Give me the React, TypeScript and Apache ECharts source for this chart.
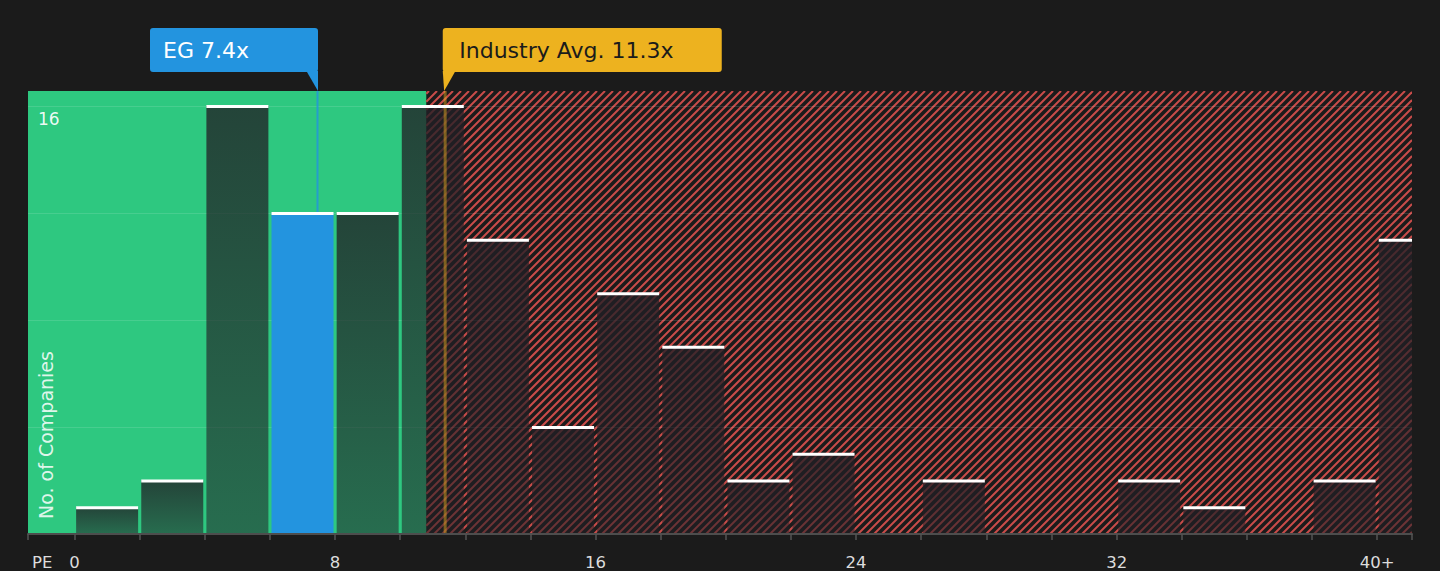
import { useEffect, useRef } from 'react';
import * as echarts from 'echarts';

// ---- data ----
const binStarts = [0, 2, 4, 6, 8, 10, 12, 14, 16, 18, 20, 22, 24, 26, 28, 30, 32, 34, 36, 38, 40];
const companyCounts = [1, 2, 16, 12, 12, 16, 11, 4, 9, 7, 2, 3, 0, 2, 0, 0, 2, 1, 0, 2, 11];
const binSize = 2;
const xTickLabels: Record<string, string> = { '0': '0', '8': '8', '16': '16', '24': '24', '32': '32', '40': '40+' };
const yTickLabels: Record<string, string> = { '16': '16' };
const yAxisTitle = 'No. of Companies';
const xAxisTitle = 'PE';
const markerValues = [7.46, 11.38];
const markerLabels = ['EG 7.4x', 'Industry Avg. 11.3x'];
const fairZoneEnd = 10.8;
const xDomain = [-1.43, 41.07];
const yDomain = [0, 16.56];

// ---- styles ----
const FONT = 'DejaVu Sans';
const BG = '#1b1b1b';
const GREEN = '#2ec880';
const RED = '#c94c4a';
const BLUE = '#2394df';
const GOLD = '#edb21f';
const BAR_W = 62;

export default function App() {
  const ref = useRef<HTMLDivElement>(null);

  useEffect(() => {
    if (!ref.current) return;
    const chart = echarts.init(ref.current, null, { renderer: 'svg' });

    const egBin = binStarts.findIndex((s) => markerValues[0] >= s && markerValues[0] < s + binSize);
    const barData = binStarts.map((s, i) => [s + binSize / 2, companyCounts[i], i === egBin ? 1 : 0]);

    const markerStyles = [
      { fill: BLUE, text: '#ffffff', line: 'rgba(35,148,223,0.8)', lineWidth: 2, boxWidth: 168, side: 'left' },
      { fill: GOLD, text: '#1b1b1b', line: 'rgba(237,178,31,0.45)', lineWidth: 3, boxWidth: 279, side: 'right' },
    ];

    const option: any = {
      animation: false,
      backgroundColor: BG,
      grid: { left: 28, right: 28, top: 91, bottom: 37, outerBoundsMode: 'none' },
      graphic: [
        {
          type: 'text',
          x: 36,
          y: 519,
          rotation: Math.PI / 2,
          z: 3,
          silent: true,
          style: {
            text: yAxisTitle,
            fill: 'rgba(255,255,255,0.85)',
            fontSize: 19,
            fontFamily: FONT,
            align: 'left',
            verticalAlign: 'top',
          },
        },
      ],
      xAxis: {
        type: 'value',
        min: xDomain[0],
        max: xDomain[1],
        splitNumber: 21,
        z: 4,
        axisLine: { show: true, lineStyle: { color: '#4d4d4d', width: 2 } },
        axisTick: { show: true, length: 6, lineStyle: { color: '#555555', width: 1.5 } },
        splitLine: { show: false },
        axisLabel: {
          formatter: (v: number) => xTickLabels[String(v)] ?? '',
          color: '#dddddd',
          fontSize: 16.5,
          lineHeight: 16,
          fontFamily: FONT,
          margin: 20,
        },
        name: xAxisTitle,
        nameLocation: 'start',
        nameGap: 0,
        nameTextStyle: {
          color: '#dddddd',
          fontSize: 16.5,
          lineHeight: 16,
          fontFamily: FONT,
          align: 'left',
          verticalAlign: 'top',
          padding: [20, 0, 0, 4],
        },
      },
      yAxis: {
        type: 'value',
        min: yDomain[0],
        max: yDomain[1],
        interval: 4,
        z: 2,
        axisLine: { show: false },
        axisTick: { show: false },
        splitLine: {
          show: true,
          showMinLine: false,
          showMaxLine: false,
          lineStyle: { color: 'rgba(255,255,255,0.12)', width: 1 },
        },
        axisLabel: {
          inside: true,
          margin: 10,
          formatter: (v: number) => yTickLabels[String(v)] ?? '',
          color: 'rgba(255,255,255,0.92)',
          fontSize: 17,
          fontFamily: FONT,
          verticalAlign: 'top',
          padding: [5, 0, 0, 0],
        },
      },
      series: [
        {
          name: 'zones',
          type: 'custom',
          z: 1,
          silent: true,
          clip: true,
          data: [[fairZoneEnd, 0]],
          renderItem: (params: any, api: any) => {
            const cs = params.coordSys;
            const x0 = cs.x;
            const x1 = cs.x + cs.width;
            const y0 = cs.y;
            const y1 = cs.y + cs.height;
            const xe = api.coord([api.value(0), 0])[0];
            const children: any[] = [
              { type: 'rect', shape: { x: x0, y: y0, width: xe - x0, height: y1 - y0 }, style: { fill: GREEN } },
            ];
            const step = 8;
            const cStart = Math.floor((xe + y0) / step) * step;
            for (let c = cStart; c <= x1 + y1; c += step) {
              const xa = Math.max(xe, c - y1);
              const xb = Math.min(x1, c - y0);
              if (xb > xa) {
                children.push({
                  type: 'line',
                  shape: { x1: xa, y1: c - xa, x2: xb, y2: c - xb },
                  style: { stroke: RED, lineWidth: 2 },
                });
              }
            }
            return { type: 'group', children };
          },
        },
        {
          name: 'companies',
          type: 'custom',
          z: 3,
          silent: true,
          clip: true,
          data: barData,
          renderItem: (params: any, api: any) => {
            const v = api.value(1);
            if (!v) return null;
            const top = api.coord([api.value(0), v]);
            const base = api.coord([api.value(0), 0]);
            const highlighted = api.value(2) === 1;
            const fill = highlighted
              ? BLUE
              : new echarts.graphic.LinearGradient(0, 0, 0, 1, [
                  { offset: 0, color: 'rgba(33,31,37,0.78)' },
                  { offset: 1, color: 'rgba(33,31,37,0.54)' },
                ]);
            return {
              type: 'rect',
              shape: { x: top[0] - BAR_W / 2, y: top[1], width: BAR_W, height: base[1] - top[1] },
              style: { fill },
            };
          },
        },
        {
          name: 'markers',
          type: 'custom',
          z: 4,
          silent: true,
          clip: false,
          data: markerValues.map((v, i) => [v, i]),
          renderItem: (params: any, api: any) => {
            const cs = params.coordSys;
            const i = api.value(1);
            const st = markerStyles[i];
            const L = api.coord([api.value(0), 0])[0];
            const top = cs.y;
            const bottom = cs.y + cs.height;
            const boxTop = top - 63;
            const boxH = 44;
            const boxBottom = boxTop + boxH;
            let boxX: number;
            let pointer: number[][];
            let textX: number;
            if (st.side === 'left') {
              boxX = L + 0.5 - st.boxWidth;
              pointer = [[L + 0.5 - 11.6, boxBottom - 1], [L + 0.5, boxBottom - 1], [L + 0.5, top]];
              textX = boxX + 13;
            } else {
              boxX = L - 2.4;
              pointer = [[L - 2.4, boxBottom - 1], [L - 2.4 + 12.7, boxBottom - 1], [L - 1, top]];
              textX = boxX + 16.5;
            }
            return {
              type: 'group',
              children: [
                {
                  type: 'line',
                  shape: { x1: L, y1: top, x2: L, y2: bottom },
                  style: { stroke: st.line, lineWidth: st.lineWidth },
                },
                {
                  type: 'rect',
                  shape: { x: boxX, y: boxTop, width: st.boxWidth, height: boxH, r: 3 },
                  style: { fill: st.fill },
                },
                { type: 'polygon', shape: { points: pointer }, style: { fill: st.fill } },
                {
                  type: 'text',
                  style: {
                    text: markerLabels[i],
                    x: textX,
                    y: boxTop + boxH / 2,
                    fill: st.text,
                    fontSize: 22,
                    fontFamily: FONT,
                    align: 'left',
                    verticalAlign: 'middle',
                  },
                },
              ],
            };
          },
        },
        {
          name: 'caps',
          type: 'custom',
          z: 5,
          silent: true,
          clip: true,
          data: barData,
          renderItem: (params: any, api: any) => {
            const v = api.value(1);
            if (!v) return null;
            const p = api.coord([api.value(0), v]);
            return {
              type: 'rect',
              shape: { x: p[0] - BAR_W / 2, y: p[1] - 1, width: BAR_W, height: 3 },
              style: { fill: '#ffffff' },
            };
          },
        },
      ],
    };

    chart.setOption(option);
    return () => chart.dispose();
  }, []);

  return (
    <div
      ref={ref}
      style={{ position: 'fixed', left: 0, top: 0, width: 1440, height: 571, background: BG }}
    />
  );
}
